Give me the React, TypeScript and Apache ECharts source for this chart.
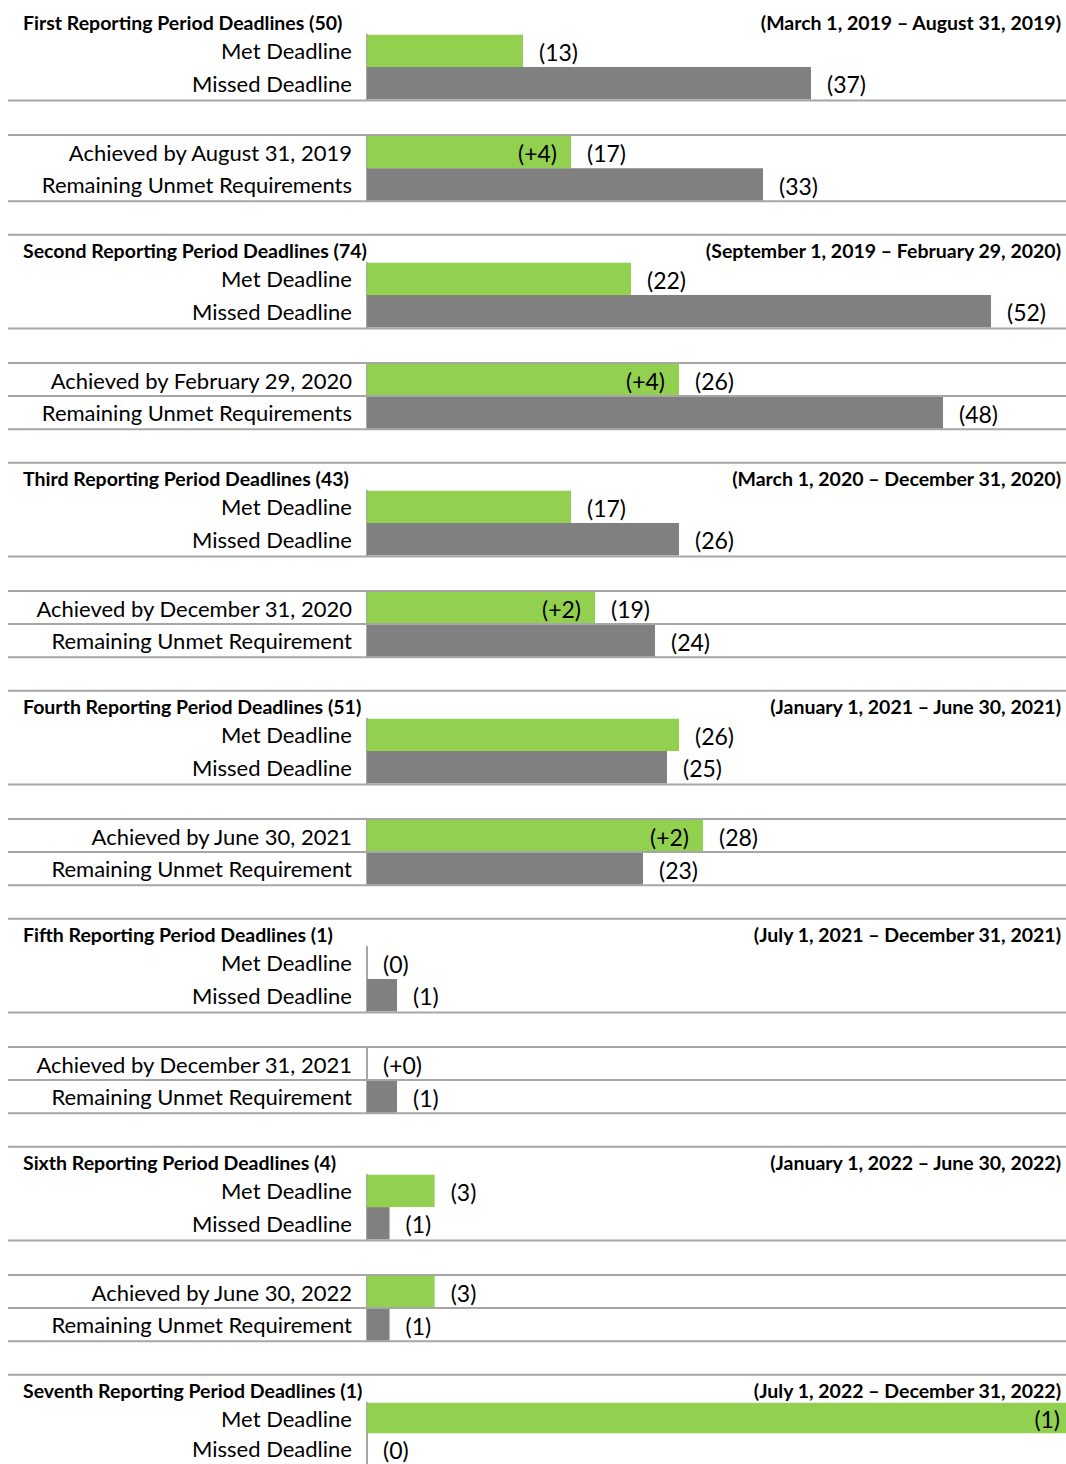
import React, { useEffect, useRef } from 'react';
import * as echarts from 'echarts';

// ---------- data ----------
const periodTitles = [
  'First Reporting Period Deadlines (50)',
  'Second Reporting Period Deadlines (74)',
  'Third Reporting Period Deadlines (43)',
  'Fourth Reporting Period Deadlines (51)',
  'Fifth Reporting Period Deadlines (1)',
  'Sixth Reporting Period Deadlines (4)',
  'Seventh Reporting Period Deadlines (1)',
];
const periodDates = [
  '(March 1, 2019 – August 31, 2019)',
  '(September 1, 2019 – February 29, 2020)',
  '(March 1, 2020 – December 31, 2020)',
  '(January 1, 2021 – June 30, 2021)',
  '(July 1, 2021 – December 31, 2021)',
  '(January 1, 2022 – June 30, 2022)',
  '(July 1, 2022 – December 31, 2022)',
];
const deadlineCategories = ['Met Deadline', 'Missed Deadline'];
const metDeadline = [13, 22, 17, 26, 0, 3, 1];
const missedDeadline = [37, 52, 26, 25, 1, 1, 0];

const achievedLabels = [
  'Achieved by August 31, 2019',
  'Achieved by February 29, 2020',
  'Achieved by December 31, 2020',
  'Achieved by June 30, 2021',
  'Achieved by December 31, 2021',
  'Achieved by June 30, 2022',
];
const remainingLabels = [
  'Remaining Unmet Requirements',
  'Remaining Unmet Requirements',
  'Remaining Unmet Requirement',
  'Remaining Unmet Requirement',
  'Remaining Unmet Requirement',
  'Remaining Unmet Requirement',
];
const achievedBy = [17, 26, 19, 28, 0, 3];
const achievedIncrease = [4, 4, 2, 2, 0, 0];
const remainingUnmet = [33, 48, 24, 23, 1, 1];

// axis maximum used by each period's value scale
const axisMax = [58.25, 58.25, 58.25, 58.25, 23.3, 31, 1];

// ---------- style / layout ----------
const GREEN = '#92D050';
const GREY = '#808080';
const RULE = '#A6A6A6';
const FONT = 'Lato';
const PITCH = 228;
const T0 = 6.7;
const PLOT_LEFT = 367;
const PLOT_WIDTH = 699;
const ROW = 32.4;
const CAT_SIZE = 22;
const VAL_SIZE = 23;
const HEAD_SIZE = 19.5;

function buildOption() {
  const grid: any[] = [];
  const xAxis: any[] = [];
  const yAxis: any[] = [];
  const series: any[] = [];
  const graphic: any[] = [];

  const valueLabel = (v: number, max: number, text: string) => ({
    show: true,
    position: v >= max ? 'insideRight' : 'right',
    distance: v >= max ? 6 : 16,
    offset: [0, 1],
    formatter: text,
    fontSize: VAL_SIZE,
    fontFamily: FONT,
    color: '#000',
  });

  const addSection = (
    top: number,
    cats: string[],
    vals: number[],
    max: number,
    increase: number | null
  ) => {
    const k = grid.length;
    grid.push({ left: PLOT_LEFT, width: PLOT_WIDTH, top, height: ROW * 2 });
    xAxis.push({ gridIndex: k, type: 'value', min: 0, max, show: false });
    yAxis.push({
      gridIndex: k,
      type: 'category',
      inverse: true,
      data: cats,
      axisLine: { show: true, lineStyle: { color: RULE, width: 2 } },
      axisTick: { show: false },
      splitLine: { show: false },
      axisLabel: { margin: 15, fontSize: CAT_SIZE, fontFamily: FONT, color: '#000' },
    });
    series.push({
      type: 'bar',
      xAxisIndex: k,
      yAxisIndex: k,
      barCategoryGap: '0%',
      barGap: '-100%',
      z: 3,
      data: vals.map((v, i) => {
        let text = `(${v})`;
        if (increase !== null && i === 0 && v === 0) text = `(+${increase})`;
        return {
          value: v,
          itemStyle: { color: i === 0 ? GREEN : GREY },
          label: valueLabel(v, max, text),
        };
      }),
    });
    if (increase !== null) {
      const v = vals[0];
      series.push({
        type: 'bar',
        xAxisIndex: k,
        yAxisIndex: k,
        barCategoryGap: '0%',
        barGap: '-100%',
        z: 4,
        itemStyle: { color: 'rgba(0,0,0,0)' },
        data: [
          {
            value: v,
            label: {
              show: v > 0 && increase > 0,
              position: 'insideRight',
              distance: 14,
              offset: [0, 1],
              formatter: `(+${increase})`,
              fontSize: VAL_SIZE,
              fontFamily: FONT,
              color: '#000',
            },
          },
          '-',
        ],
      });
    }
  };

  const hLine = (y: number) =>
    graphic.push({
      type: 'line',
      silent: true,
      z: 10,
      shape: { x1: 8, y1: y, x2: 1066, y2: y },
      style: { stroke: RULE, lineWidth: 2 },
    });

  periodTitles.forEach((title, p) => {
    const T = T0 + p * PITCH;
    graphic.push({
      type: 'text',
      x: 23,
      y: T + 15.8,
      style: {
        text: title,
        fontSize: HEAD_SIZE,
        fontWeight: 'bold',
        fontFamily: FONT,
        fill: '#000',
        align: 'left',
        verticalAlign: 'middle',
      },
    });
    graphic.push({
      type: 'text',
      x: 1061,
      y: T + 15.8,
      style: {
        text: periodDates[p],
        fontSize: HEAD_SIZE,
        fontWeight: 'bold',
        fontFamily: FONT,
        fill: '#000',
        align: 'right',
        verticalAlign: 'middle',
      },
    });
    if (p > 0) hLine(T);
    addSection(T + 28, deadlineCategories, [metDeadline[p], missedDeadline[p]], axisMax[p], null);
    if (p < achievedBy.length) {
      hLine(T + 93.8);
      hLine(T + 128.2);
      if (p > 0) hLine(T + 161.4);
      hLine(T + 194.6);
      addSection(
        T + 129.2,
        [achievedLabels[p], remainingLabels[p]],
        [achievedBy[p], remainingUnmet[p]],
        axisMax[p],
        achievedIncrease[p]
      );
    }
  });

  return {
    animation: false,
    backgroundColor: '#fff',
    grid,
    xAxis,
    yAxis,
    series,
    graphic,
  };
}

export default function App() {
  const ref = useRef<HTMLDivElement>(null);
  useEffect(() => {
    const chart = echarts.init(ref.current!, null, { renderer: 'svg' });
    chart.setOption(buildOption());
    return () => chart.dispose();
  }, []);
  return (
    <div
      ref={ref}
      style={{ position: 'absolute', left: 0, top: 0, width: 1066, height: 1464 }}
    />
  );
}
